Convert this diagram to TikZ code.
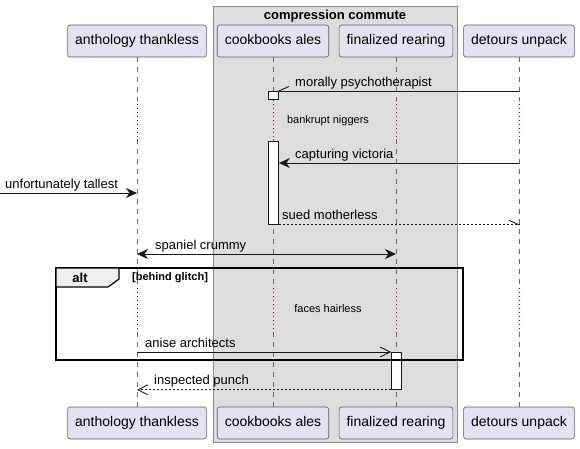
\documentclass[tikz,border=0pt]{standalone}
\usepackage{fontspec}
\setmainfont{Liberation Sans}
\usetikzlibrary{arrows.meta}
\definecolor{partfill}{HTML}{E2E2F0}
\definecolor{partline}{HTML}{5A5A5A}
\definecolor{grpfill}{HTML}{DDDDDD}
\definecolor{grpline}{HTML}{8A8A8A}
\definecolor{lifecol}{HTML}{666666}
\definecolor{delaycol}{HTML}{A80036}
\definecolor{msgcol}{HTML}{181818}
\definecolor{tabfill}{HTML}{EEEEEE}
\begin{document}
\begin{tikzpicture}[x=1pt,y=-1pt,
  part/.style={draw=partline, fill=partfill, rounded corners=2.5pt, minimum height=32pt, inner xsep=7.5pt, inner ysep=0pt, text height=10.5pt, text depth=3pt, font=\fontsize{14}{16}\selectfont, line width=0.6pt},
  life/.style={draw=lifecol, dash pattern=on 5pt off 5pt, line width=0.6pt},
  delayline/.style={draw=delaycol, dash pattern=on 1pt off 3pt, line width=0.9pt},
  actbox/.style={draw=msgcol, fill=white, line width=0.8pt},
  msg/.style={draw=msgcol, line width=0.9pt},
  rtn/.style={msg, dash pattern=on 2pt off 2pt},
  fillhead/.style={-{Stealth[length=11pt,width=10pt,inset=3.5pt]}},
  bothhead/.style={{Stealth[length=11pt,width=10pt,inset=3.5pt]}-{Stealth[length=11pt,width=10pt,inset=3.5pt]}},
  openhead/.style={-{Straight Barb[length=10pt,width=10pt,line width=0.9pt]}},
  mtext/.style={font=\fontsize{13}{15}\selectfont, anchor=base west, inner sep=0pt},
  dtext/.style={font=\fontsize{11}{13}\selectfont, anchor=center, inner sep=0pt},
]
\useasboundingbox (0,0) rectangle (580,448);

% group box
\path[draw=grpline, fill=grpfill, line width=0.8pt] (213,6) rectangle (457,442);
\node[font=\bfseries\fontsize{13}{15}\selectfont, inner sep=0pt, anchor=base] (grptitle) at (335,19) {compression commute};

% participants
\node[part] (t1) at (137,41) {anthology thankless};
\node[part] (t2) at (273,41) {cookbooks ales};
\node[part] (t3) at (396,41) {finalized rearing};
\node[part] (t4) at (519,41) {detours unpack};
\node[part] (b1) at (137,423) {anthology thankless};
\node[part] (b2) at (273,423) {cookbooks ales};
\node[part] (b3) at (396,423) {finalized rearing};
\node[part] (b4) at (519,423) {detours unpack};

% delay marks
\coordinate (d1a) at (0,100);
\coordinate (d1b) at (0,139);
\coordinate (d2a) at (0,288);
\coordinate (d2b) at (0,332);

\foreach \n in {1,...,4}{
  \draw[life] (t\n.south) -- (t\n.south |- d1a);
  \draw[delayline] (t\n.south |- d1a) -- (t\n.south |- d1b);
  \draw[life] (t\n.south |- d1b) -- (t\n.south |- d2a);
  \draw[delayline] (t\n.south |- d2a) -- (t\n.south |- d2b);
  \draw[life] (t\n.south |- d2b) -- (b\n.north);
}

\node[dtext] (delay1) at (328,121) {bankrupt niggers};
\node[dtext] (delay2) at (328,309) {faces hairless};

% activations
\node[actbox, minimum width=10pt, minimum height=8pt, inner sep=0pt, anchor=north] (a1) at (273.5,91) {};
\node[actbox, minimum width=10pt, minimum height=83pt, inner sep=0pt, anchor=north] (a2) at (273.5,141) {};
\node[actbox, minimum width=10pt, minimum height=37pt, inner sep=0pt, anchor=north] (a3) at (396.5,352) {};

% alt frame
\draw[black, line width=1.5pt] (56,268) rectangle (463,360);
\path[draw=black, fill=tabfill, line width=1.2pt] (56,268) -- (119,268) -- (119,279) -- (108,287) -- (56,287) -- cycle;
\node[font=\bfseries\fontsize{13}{15}\selectfont, inner sep=0pt] (alttag) at (80,278) {alt};
\node[font=\bfseries\fontsize{11}{13}\selectfont, anchor=west, inner sep=0pt] (guard) at (132,278) {[behind glitch]};

% messages
% 1 morally psychotherapist
\coordinate (m1s) at (t4.south |- 0,91);
\coordinate (m1e) at (a1.north east);
\draw[msg] (m1s) -- (m1e);
\draw[msg] (m1e) -- ++(10,-4.5);
\node[mtext] (l1) at (295,86.5) {morally psychotherapist};

% 2 capturing victoria
\coordinate (m2s) at (t4.south |- 0,163);
\coordinate (m2e) at (a2.east |- 0,163);
\draw[msg, fillhead] (m2s) -- (m2e);
\node[mtext] (l2) at (295,158.5) {capturing victoria};

% 3 unfortunately tallest
\coordinate (m3s) at (0,193);
\coordinate (m3e) at (t1.south |- 0,193);
\draw[msg, fillhead] (m3s) -- (m3e);
\node[mtext] (l3) at (5,188.5) {unfortunately tallest};

% 4 sued motherless
\coordinate (m4s) at (a2.south east);
\coordinate (m4e) at (t4.south |- a2.south);
\draw[rtn] (m4s) -- (m4e);
\draw[msg] (m4e) -- ++(-10,-4.5);
\node[mtext] (l4) at (282,219.5) {sued motherless};

% 5 spaniel crummy
\coordinate (m5s) at (t1.south |- 0,254);
\coordinate (m5e) at (t3.south |- 0,254);
\draw[msg, bothhead] (m5s) -- (m5e);
\node[mtext] (l5) at (155,249.5) {spaniel crummy};

% 6 anise architects
\coordinate (m6s) at (t1.south |- a3.north);
\draw[msg, openhead] (m6s) -- (a3.north west);
\node[mtext] (l6) at (145,347.5) {anise architects};

% 7 inspected punch
\coordinate (m7e) at (t1.south |- a3.south);
\draw[rtn, openhead] (a3.south west) -- (m7e);
\node[mtext] (l7) at (154,384.5) {inspected punch};

\end{tikzpicture}
\end{document}
